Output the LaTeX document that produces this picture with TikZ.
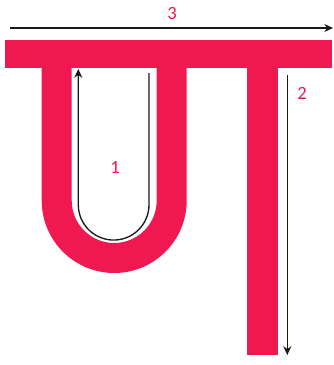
\documentclass[tikz,border=0pt]{standalone}
\usepackage{fontspec}
\setmainfont{Carlito}
\usetikzlibrary{arrows.meta,positioning,calc}
\definecolor{letterpink}{RGB}{239,24,81}

\begin{document}
\begin{tikzpicture}[
    x=0.75pt, y=-0.75pt,
    stroke/.style={fill=letterpink, draw=none},
    guide/.style={draw=black!90, line width=1pt, -{Stealth[length=6.5pt,width=6pt,inset=2pt]}},
    lbl/.style={text=letterpink, font=\fontsize{14}{16}\selectfont, inner sep=0pt}
]
    \useasboundingbox (0,0) rectangle (334,365);

    % Top bar
    \fill[stroke] (5,40) rectangle (332,68);

    % U shaped loop
    \fill[stroke] (41.7,67) -- (41.7,200.5) arc[start angle=180, end angle=0, radius=72.5]
        -- (186.7,67) -- (156.7,67) -- (156.7,200.5)
        arc[start angle=0, end angle=180, radius=42.5] -- (71.7,67) -- cycle;

    % Right stem
    \fill[stroke] (246.7,67) rectangle (277.7,355);

    % Stroke order guides
    \coordinate (s1a) at (149,73);
    \coordinate (s1b) at (78.3,69);
    \draw[guide] (s1a) -- (149,204.7) arc[start angle=0, end angle=180, radius=35.35] -- (s1b);
    \node[lbl] (n1) at (115,167) {1};

    \coordinate (s2a) at (287.3,75);
    \coordinate (s2b) at (287.3,355);
    \draw[guide] (s2a) -- (s2b);
    \node[lbl] (n2) at (302,93) {2};

    \coordinate (s3a) at (10,28);
    \coordinate (s3b) at (333,28);
    \draw[guide] (s3a) -- (s3b);
    \node[lbl] (n3) at (172,14) {3};
\end{tikzpicture}
\end{document}
